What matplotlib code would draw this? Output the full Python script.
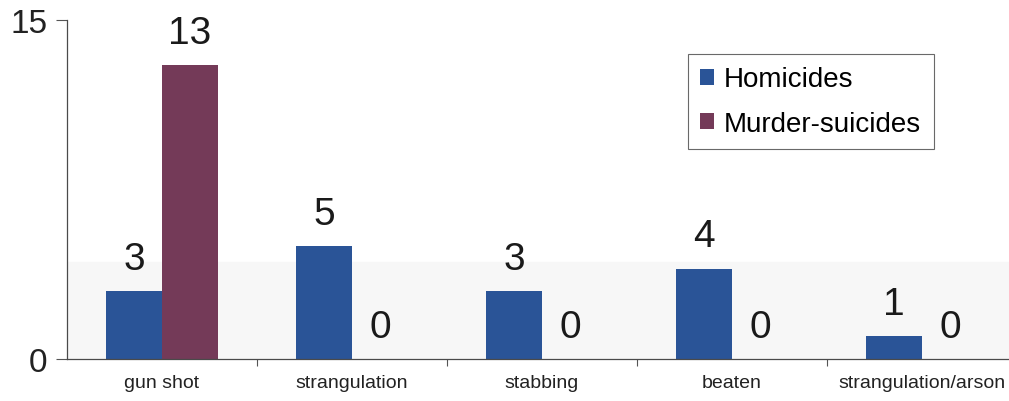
import matplotlib
matplotlib.use("Agg")
import matplotlib.pyplot as plt
import numpy as np

categories = ["gun shot", "strangulation", "stabbing", "beaten", "strangulation/arson"]
homicides = [3, 5, 3, 4, 1]
murder_suicides = [13, 0, 0, 0, 0]
series_names = ["Homicides", "Murder-suicides"]

plt.rcParams["font.family"] = ["Liberation Sans", "DejaVu Sans"]

blue = "#2a5497"
maroon = "#743a58"

fig = plt.figure(figsize=(10.09, 4.02), dpi=100)
ax = fig.add_axes([0.0664, 0.1045, 0.9336, 0.843])

x = np.arange(len(categories))
w = 0.295
b1 = ax.bar(x - w / 2, homicides, w, color=blue, label=series_names[0])
b2 = ax.bar(x + w / 2, murder_suicides, w, color=maroon, label=series_names[1])

# faint band behind the lower part of the plot
ax.axhspan(0, 4.3, color="#f7f7f7", zorder=0)

for rects, vals in ((b1, homicides), (b2, murder_suicides)):
    for r, v in zip(rects, vals):
        ax.annotate(str(v), (r.get_x() + r.get_width() / 2, v),
                    xytext=(0, 16), textcoords="offset points",
                    ha="center", va="baseline", fontsize=28, color="#1a1a1a")

ax.set_ylim(0, 15)
ax.set_xlim(-0.5, -0.5 + 942 / 190)
ax.set_yticks([0, 15])
ax.set_yticklabels(["0", "15"], fontsize=24, color="#222222")
ax.tick_params(axis="y", length=8, width=0.8, color="#555555", pad=6)

ax.set_xticks(x)
ax.set_xticklabels(categories, fontsize=14, color="#222222")
ax.tick_params(axis="x", length=0, pad=11)
ax.set_xticks(np.arange(0.5, len(categories) - 0.5, 1), minor=True)
ax.tick_params(axis="x", which="minor", length=5, width=0.8, color="#555555")

for s in ("top", "right"):
    ax.spines[s].set_visible(False)
for s in ("left", "bottom"):
    ax.spines[s].set_color("#4a4a4a")
    ax.spines[s].set_linewidth(0.9)

leg = ax.legend(loc="upper left", bbox_to_anchor=(0.659, 0.9), fontsize=20,
                frameon=True, fancybox=False, edgecolor="#444444",
                handlelength=0.5, handleheight=0.5, handletextpad=0.35,
                borderpad=0.45, labelspacing=0.65, borderaxespad=0)
leg.get_frame().set_linewidth(0.8)

fig.savefig("out.png", dpi=100)
